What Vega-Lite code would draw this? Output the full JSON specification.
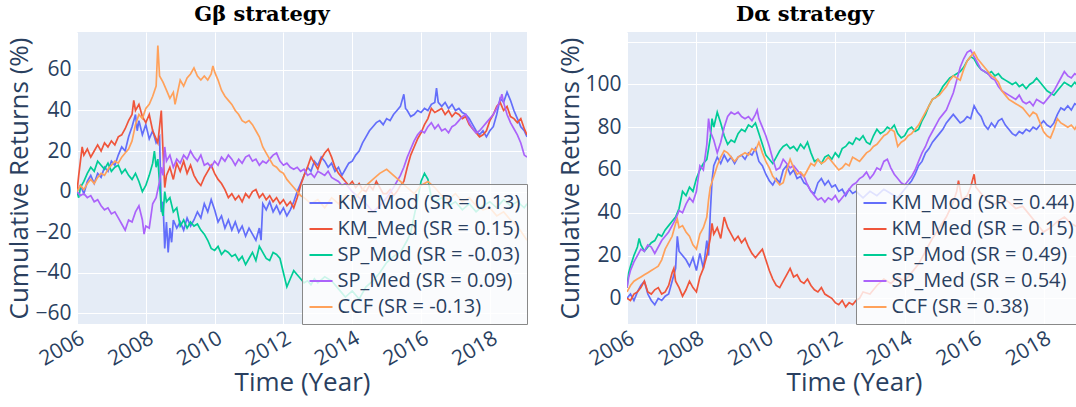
{
"$schema":"https://vega.github.io/schema/vega-lite/v6.json",
"background":"white",
"padding":{"left":6,"top":4,"right":0,"bottom":8},
"datasets":{
"G":[
{"s":"KM_Mod","t":2006,"v":0},{"s":"KM_Mod","t":2006.1,"v":3},{"s":"KM_Mod","t":2006.2,"v":-1},{"s":"KM_Mod","t":2006.3,"v":5},{"s":"KM_Mod","t":2006.4,"v":8},{"s":"KM_Mod","t":2006.5,"v":4},{"s":"KM_Mod","t":2006.6,"v":9},{"s":"KM_Mod","t":2006.7,"v":7},{"s":"KM_Mod","t":2006.8,"v":12},{"s":"KM_Mod","t":2006.9,"v":10},{"s":"KM_Mod","t":2007,"v":15},{"s":"KM_Mod","t":2007.1,"v":13},{"s":"KM_Mod","t":2007.2,"v":18},{"s":"KM_Mod","t":2007.3,"v":22},{"s":"KM_Mod","t":2007.4,"v":20},{"s":"KM_Mod","t":2007.5,"v":27},{"s":"KM_Mod","t":2007.6,"v":32},{"s":"KM_Mod","t":2007.7,"v":38},{"s":"KM_Mod","t":2007.75,"v":30},{"s":"KM_Mod","t":2007.8,"v":35},{"s":"KM_Mod","t":2007.9,"v":28},{"s":"KM_Mod","t":2008,"v":33},{"s":"KM_Mod","t":2008.1,"v":26},{"s":"KM_Mod","t":2008.2,"v":30},{"s":"KM_Mod","t":2008.3,"v":24},{"s":"KM_Mod","t":2008.4,"v":27},{"s":"KM_Mod","t":2008.45,"v":-10},{"s":"KM_Mod","t":2008.5,"v":-5},{"s":"KM_Mod","t":2008.55,"v":-28},{"s":"KM_Mod","t":2008.6,"v":-15},{"s":"KM_Mod","t":2008.65,"v":-30},{"s":"KM_Mod","t":2008.7,"v":-18},{"s":"KM_Mod","t":2008.75,"v":-25},{"s":"KM_Mod","t":2008.8,"v":-14},{"s":"KM_Mod","t":2008.9,"v":-18},{"s":"KM_Mod","t":2009,"v":-15},{"s":"KM_Mod","t":2009.1,"v":-19},{"s":"KM_Mod","t":2009.2,"v":-13},{"s":"KM_Mod","t":2009.3,"v":-17},{"s":"KM_Mod","t":2009.4,"v":-14},{"s":"KM_Mod","t":2009.5,"v":-10},{"s":"KM_Mod","t":2009.6,"v":-13},{"s":"KM_Mod","t":2009.7,"v":-6},{"s":"KM_Mod","t":2009.8,"v":-10},{"s":"KM_Mod","t":2009.9,"v":-4},{"s":"KM_Mod","t":2010,"v":-9},{"s":"KM_Mod","t":2010.1,"v":-15},{"s":"KM_Mod","t":2010.2,"v":-12},{"s":"KM_Mod","t":2010.3,"v":-18},{"s":"KM_Mod","t":2010.4,"v":-14},{"s":"KM_Mod","t":2010.5,"v":-19},{"s":"KM_Mod","t":2010.6,"v":-15},{"s":"KM_Mod","t":2010.7,"v":-20},{"s":"KM_Mod","t":2010.8,"v":-17},{"s":"KM_Mod","t":2010.9,"v":-22},{"s":"KM_Mod","t":2011,"v":-18},{"s":"KM_Mod","t":2011.1,"v":-21},{"s":"KM_Mod","t":2011.2,"v":-24},{"s":"KM_Mod","t":2011.3,"v":-18},{"s":"KM_Mod","t":2011.35,"v":-24},{"s":"KM_Mod","t":2011.4,"v":-6},{"s":"KM_Mod","t":2011.5,"v":-9},{"s":"KM_Mod","t":2011.6,"v":-5},{"s":"KM_Mod","t":2011.7,"v":-10},{"s":"KM_Mod","t":2011.8,"v":-7},{"s":"KM_Mod","t":2011.9,"v":-11},{"s":"KM_Mod","t":2012,"v":-8},{"s":"KM_Mod","t":2012.1,"v":-12},{"s":"KM_Mod","t":2012.2,"v":-9},{"s":"KM_Mod","t":2012.3,"v":-5},{"s":"KM_Mod","t":2012.4,"v":0},{"s":"KM_Mod","t":2012.5,"v":4},{"s":"KM_Mod","t":2012.6,"v":8},{"s":"KM_Mod","t":2012.7,"v":12},{"s":"KM_Mod","t":2012.8,"v":10},{"s":"KM_Mod","t":2012.9,"v":15},{"s":"KM_Mod","t":2013,"v":13},{"s":"KM_Mod","t":2013.1,"v":17},{"s":"KM_Mod","t":2013.2,"v":15},{"s":"KM_Mod","t":2013.3,"v":12},{"s":"KM_Mod","t":2013.4,"v":14},{"s":"KM_Mod","t":2013.5,"v":10},{"s":"KM_Mod","t":2013.6,"v":12},{"s":"KM_Mod","t":2013.7,"v":8},{"s":"KM_Mod","t":2013.8,"v":11},{"s":"KM_Mod","t":2013.9,"v":14},{"s":"KM_Mod","t":2014,"v":15},{"s":"KM_Mod","t":2014.1,"v":18},{"s":"KM_Mod","t":2014.2,"v":20},{"s":"KM_Mod","t":2014.3,"v":24},{"s":"KM_Mod","t":2014.4,"v":27},{"s":"KM_Mod","t":2014.5,"v":30},{"s":"KM_Mod","t":2014.6,"v":32},{"s":"KM_Mod","t":2014.7,"v":34},{"s":"KM_Mod","t":2014.8,"v":35},{"s":"KM_Mod","t":2014.9,"v":33},{"s":"KM_Mod","t":2015,"v":36},{"s":"KM_Mod","t":2015.1,"v":35},{"s":"KM_Mod","t":2015.2,"v":38},{"s":"KM_Mod","t":2015.3,"v":40},{"s":"KM_Mod","t":2015.4,"v":42},{"s":"KM_Mod","t":2015.5,"v":48},{"s":"KM_Mod","t":2015.55,"v":41},{"s":"KM_Mod","t":2015.6,"v":40},{"s":"KM_Mod","t":2015.7,"v":37},{"s":"KM_Mod","t":2015.8,"v":38},{"s":"KM_Mod","t":2015.9,"v":40},{"s":"KM_Mod","t":2016,"v":39},{"s":"KM_Mod","t":2016.1,"v":41},{"s":"KM_Mod","t":2016.2,"v":40},{"s":"KM_Mod","t":2016.3,"v":43},{"s":"KM_Mod","t":2016.4,"v":44},{"s":"KM_Mod","t":2016.45,"v":51},{"s":"KM_Mod","t":2016.5,"v":44},{"s":"KM_Mod","t":2016.6,"v":42},{"s":"KM_Mod","t":2016.7,"v":44},{"s":"KM_Mod","t":2016.8,"v":41},{"s":"KM_Mod","t":2016.9,"v":43},{"s":"KM_Mod","t":2017,"v":40},{"s":"KM_Mod","t":2017.1,"v":41},{"s":"KM_Mod","t":2017.2,"v":39},{"s":"KM_Mod","t":2017.3,"v":38},{"s":"KM_Mod","t":2017.4,"v":36},{"s":"KM_Mod","t":2017.5,"v":33},{"s":"KM_Mod","t":2017.6,"v":30},{"s":"KM_Mod","t":2017.7,"v":28},{"s":"KM_Mod","t":2017.8,"v":30},{"s":"KM_Mod","t":2017.9,"v":27},{"s":"KM_Mod","t":2018,"v":30},{"s":"KM_Mod","t":2018.1,"v":32},{"s":"KM_Mod","t":2018.2,"v":38},{"s":"KM_Mod","t":2018.3,"v":46},{"s":"KM_Mod","t":2018.4,"v":44},{"s":"KM_Mod","t":2018.5,"v":49},{"s":"KM_Mod","t":2018.6,"v":45},{"s":"KM_Mod","t":2018.7,"v":40},{"s":"KM_Mod","t":2018.8,"v":36},{"s":"KM_Mod","t":2018.9,"v":32},{"s":"KM_Mod","t":2019,"v":30},{"s":"KM_Mod","t":2019.08,"v":27},
{"s":"KM_Med","t":2006,"v":0},{"s":"KM_Med","t":2006.05,"v":8},{"s":"KM_Med","t":2006.1,"v":15},{"s":"KM_Med","t":2006.15,"v":22},{"s":"KM_Med","t":2006.2,"v":18},{"s":"KM_Med","t":2006.3,"v":21},{"s":"KM_Med","t":2006.4,"v":17},{"s":"KM_Med","t":2006.5,"v":20},{"s":"KM_Med","t":2006.6,"v":23},{"s":"KM_Med","t":2006.7,"v":20},{"s":"KM_Med","t":2006.8,"v":24},{"s":"KM_Med","t":2006.9,"v":22},{"s":"KM_Med","t":2007,"v":25},{"s":"KM_Med","t":2007.1,"v":23},{"s":"KM_Med","t":2007.2,"v":27},{"s":"KM_Med","t":2007.3,"v":28},{"s":"KM_Med","t":2007.4,"v":31},{"s":"KM_Med","t":2007.5,"v":35},{"s":"KM_Med","t":2007.6,"v":38},{"s":"KM_Med","t":2007.65,"v":45},{"s":"KM_Med","t":2007.7,"v":40},{"s":"KM_Med","t":2007.8,"v":43},{"s":"KM_Med","t":2007.9,"v":37},{"s":"KM_Med","t":2008,"v":34},{"s":"KM_Med","t":2008.1,"v":38},{"s":"KM_Med","t":2008.2,"v":30},{"s":"KM_Med","t":2008.3,"v":26},{"s":"KM_Med","t":2008.35,"v":24},{"s":"KM_Med","t":2008.45,"v":40},{"s":"KM_Med","t":2008.5,"v":20},{"s":"KM_Med","t":2008.55,"v":2},{"s":"KM_Med","t":2008.6,"v":8},{"s":"KM_Med","t":2008.7,"v":12},{"s":"KM_Med","t":2008.8,"v":6},{"s":"KM_Med","t":2008.9,"v":14},{"s":"KM_Med","t":2009,"v":10},{"s":"KM_Med","t":2009.1,"v":15},{"s":"KM_Med","t":2009.2,"v":9},{"s":"KM_Med","t":2009.3,"v":13},{"s":"KM_Med","t":2009.4,"v":8},{"s":"KM_Med","t":2009.5,"v":5},{"s":"KM_Med","t":2009.6,"v":3},{"s":"KM_Med","t":2009.7,"v":7},{"s":"KM_Med","t":2009.8,"v":10},{"s":"KM_Med","t":2009.9,"v":13},{"s":"KM_Med","t":2010,"v":9},{"s":"KM_Med","t":2010.1,"v":6},{"s":"KM_Med","t":2010.2,"v":4},{"s":"KM_Med","t":2010.3,"v":1},{"s":"KM_Med","t":2010.4,"v":-3},{"s":"KM_Med","t":2010.5,"v":-1},{"s":"KM_Med","t":2010.6,"v":-4},{"s":"KM_Med","t":2010.7,"v":-2},{"s":"KM_Med","t":2010.8,"v":-5},{"s":"KM_Med","t":2010.9,"v":-1},{"s":"KM_Med","t":2011,"v":-3},{"s":"KM_Med","t":2011.1,"v":0},{"s":"KM_Med","t":2011.2,"v":1},{"s":"KM_Med","t":2011.3,"v":-3},{"s":"KM_Med","t":2011.4,"v":-1},{"s":"KM_Med","t":2011.5,"v":-4},{"s":"KM_Med","t":2011.6,"v":-2},{"s":"KM_Med","t":2011.7,"v":-5},{"s":"KM_Med","t":2011.8,"v":-3},{"s":"KM_Med","t":2011.9,"v":-6},{"s":"KM_Med","t":2012,"v":-4},{"s":"KM_Med","t":2012.1,"v":-7},{"s":"KM_Med","t":2012.2,"v":-5},{"s":"KM_Med","t":2012.3,"v":-8},{"s":"KM_Med","t":2012.4,"v":-3},{"s":"KM_Med","t":2012.5,"v":3},{"s":"KM_Med","t":2012.6,"v":8},{"s":"KM_Med","t":2012.7,"v":12},{"s":"KM_Med","t":2012.8,"v":17},{"s":"KM_Med","t":2012.9,"v":14},{"s":"KM_Med","t":2013,"v":11},{"s":"KM_Med","t":2013.1,"v":16},{"s":"KM_Med","t":2013.2,"v":19},{"s":"KM_Med","t":2013.3,"v":21},{"s":"KM_Med","t":2013.4,"v":17},{"s":"KM_Med","t":2013.5,"v":12},{"s":"KM_Med","t":2013.6,"v":9},{"s":"KM_Med","t":2013.7,"v":7},{"s":"KM_Med","t":2013.8,"v":5},{"s":"KM_Med","t":2013.9,"v":3},{"s":"KM_Med","t":2014,"v":5},{"s":"KM_Med","t":2014.1,"v":2},{"s":"KM_Med","t":2014.2,"v":4},{"s":"KM_Med","t":2014.3,"v":1},{"s":"KM_Med","t":2014.4,"v":0},{"s":"KM_Med","t":2014.5,"v":3},{"s":"KM_Med","t":2014.6,"v":1},{"s":"KM_Med","t":2014.7,"v":5},{"s":"KM_Med","t":2014.8,"v":2},{"s":"KM_Med","t":2014.9,"v":-1},{"s":"KM_Med","t":2015,"v":-1},{"s":"KM_Med","t":2015.1,"v":1},{"s":"KM_Med","t":2015.2,"v":-2},{"s":"KM_Med","t":2015.3,"v":0},{"s":"KM_Med","t":2015.4,"v":3},{"s":"KM_Med","t":2015.5,"v":5},{"s":"KM_Med","t":2015.6,"v":12},{"s":"KM_Med","t":2015.7,"v":18},{"s":"KM_Med","t":2015.8,"v":22},{"s":"KM_Med","t":2015.9,"v":26},{"s":"KM_Med","t":2016,"v":29},{"s":"KM_Med","t":2016.1,"v":33},{"s":"KM_Med","t":2016.2,"v":36},{"s":"KM_Med","t":2016.3,"v":41},{"s":"KM_Med","t":2016.4,"v":39},{"s":"KM_Med","t":2016.5,"v":40},{"s":"KM_Med","t":2016.6,"v":41},{"s":"KM_Med","t":2016.7,"v":38},{"s":"KM_Med","t":2016.8,"v":40},{"s":"KM_Med","t":2016.9,"v":37},{"s":"KM_Med","t":2017,"v":39},{"s":"KM_Med","t":2017.1,"v":38},{"s":"KM_Med","t":2017.2,"v":36},{"s":"KM_Med","t":2017.3,"v":37},{"s":"KM_Med","t":2017.4,"v":33},{"s":"KM_Med","t":2017.5,"v":31},{"s":"KM_Med","t":2017.6,"v":29},{"s":"KM_Med","t":2017.7,"v":27},{"s":"KM_Med","t":2017.8,"v":28},{"s":"KM_Med","t":2017.9,"v":30},{"s":"KM_Med","t":2018,"v":35},{"s":"KM_Med","t":2018.1,"v":38},{"s":"KM_Med","t":2018.2,"v":42},{"s":"KM_Med","t":2018.3,"v":44},{"s":"KM_Med","t":2018.4,"v":40},{"s":"KM_Med","t":2018.5,"v":42},{"s":"KM_Med","t":2018.6,"v":37},{"s":"KM_Med","t":2018.7,"v":36},{"s":"KM_Med","t":2018.8,"v":34},{"s":"KM_Med","t":2018.9,"v":36},{"s":"KM_Med","t":2019,"v":31},{"s":"KM_Med","t":2019.08,"v":28},
{"s":"SP_Mod","t":2006,"v":0},{"s":"SP_Mod","t":2006.05,"v":-3},{"s":"SP_Mod","t":2006.1,"v":2},{"s":"SP_Mod","t":2006.2,"v":5},{"s":"SP_Mod","t":2006.3,"v":9},{"s":"SP_Mod","t":2006.4,"v":12},{"s":"SP_Mod","t":2006.5,"v":10},{"s":"SP_Mod","t":2006.6,"v":15},{"s":"SP_Mod","t":2006.7,"v":13},{"s":"SP_Mod","t":2006.8,"v":11},{"s":"SP_Mod","t":2006.9,"v":14},{"s":"SP_Mod","t":2007,"v":10},{"s":"SP_Mod","t":2007.1,"v":12},{"s":"SP_Mod","t":2007.2,"v":13},{"s":"SP_Mod","t":2007.3,"v":9},{"s":"SP_Mod","t":2007.4,"v":11},{"s":"SP_Mod","t":2007.5,"v":8},{"s":"SP_Mod","t":2007.6,"v":6},{"s":"SP_Mod","t":2007.7,"v":9},{"s":"SP_Mod","t":2007.8,"v":5},{"s":"SP_Mod","t":2007.9,"v":0},{"s":"SP_Mod","t":2008,"v":3},{"s":"SP_Mod","t":2008.1,"v":8},{"s":"SP_Mod","t":2008.2,"v":14},{"s":"SP_Mod","t":2008.25,"v":20},{"s":"SP_Mod","t":2008.3,"v":12},{"s":"SP_Mod","t":2008.35,"v":16},{"s":"SP_Mod","t":2008.4,"v":4},{"s":"SP_Mod","t":2008.45,"v":-8},{"s":"SP_Mod","t":2008.5,"v":-12},{"s":"SP_Mod","t":2008.55,"v":0},{"s":"SP_Mod","t":2008.6,"v":-5},{"s":"SP_Mod","t":2008.7,"v":-3},{"s":"SP_Mod","t":2008.8,"v":-10},{"s":"SP_Mod","t":2008.9,"v":-8},{"s":"SP_Mod","t":2009,"v":-17},{"s":"SP_Mod","t":2009.1,"v":-14},{"s":"SP_Mod","t":2009.2,"v":-18},{"s":"SP_Mod","t":2009.3,"v":-15},{"s":"SP_Mod","t":2009.4,"v":-17},{"s":"SP_Mod","t":2009.5,"v":-16},{"s":"SP_Mod","t":2009.6,"v":-19},{"s":"SP_Mod","t":2009.7,"v":-21},{"s":"SP_Mod","t":2009.8,"v":-24},{"s":"SP_Mod","t":2009.9,"v":-28},{"s":"SP_Mod","t":2010,"v":-29},{"s":"SP_Mod","t":2010.1,"v":-27},{"s":"SP_Mod","t":2010.2,"v":-31},{"s":"SP_Mod","t":2010.3,"v":-29},{"s":"SP_Mod","t":2010.4,"v":-30},{"s":"SP_Mod","t":2010.5,"v":-32},{"s":"SP_Mod","t":2010.6,"v":-31},{"s":"SP_Mod","t":2010.7,"v":-34},{"s":"SP_Mod","t":2010.8,"v":-32},{"s":"SP_Mod","t":2010.9,"v":-36},{"s":"SP_Mod","t":2011,"v":-33},{"s":"SP_Mod","t":2011.1,"v":-30},{"s":"SP_Mod","t":2011.2,"v":-34},{"s":"SP_Mod","t":2011.3,"v":-27},{"s":"SP_Mod","t":2011.4,"v":-30},{"s":"SP_Mod","t":2011.5,"v":-33},{"s":"SP_Mod","t":2011.6,"v":-34},{"s":"SP_Mod","t":2011.7,"v":-30},{"s":"SP_Mod","t":2011.8,"v":-31},{"s":"SP_Mod","t":2011.9,"v":-33},{"s":"SP_Mod","t":2012,"v":-40},{"s":"SP_Mod","t":2012.1,"v":-47},{"s":"SP_Mod","t":2012.2,"v":-43},{"s":"SP_Mod","t":2012.3,"v":-39},{"s":"SP_Mod","t":2012.4,"v":-41},{"s":"SP_Mod","t":2012.5,"v":-43},{"s":"SP_Mod","t":2012.6,"v":-45},{"s":"SP_Mod","t":2012.7,"v":-44},{"s":"SP_Mod","t":2012.8,"v":-46},{"s":"SP_Mod","t":2012.9,"v":-43},{"s":"SP_Mod","t":2013,"v":-45},{"s":"SP_Mod","t":2013.2,"v":-42},{"s":"SP_Mod","t":2013.4,"v":-44},{"s":"SP_Mod","t":2013.6,"v":-48},{"s":"SP_Mod","t":2013.8,"v":-52},{"s":"SP_Mod","t":2014,"v":-49},{"s":"SP_Mod","t":2014.2,"v":-53},{"s":"SP_Mod","t":2014.4,"v":-47},{"s":"SP_Mod","t":2014.6,"v":-44},{"s":"SP_Mod","t":2014.8,"v":-40},{"s":"SP_Mod","t":2015,"v":-35},{"s":"SP_Mod","t":2015.2,"v":-32},{"s":"SP_Mod","t":2015.4,"v":-30},{"s":"SP_Mod","t":2015.6,"v":-24},{"s":"SP_Mod","t":2015.7,"v":-20},{"s":"SP_Mod","t":2015.8,"v":-12},{"s":"SP_Mod","t":2015.9,"v":-4},{"s":"SP_Mod","t":2016,"v":5},{"s":"SP_Mod","t":2016.1,"v":9},{"s":"SP_Mod","t":2016.2,"v":6},{"s":"SP_Mod","t":2016.3,"v":-3},{"s":"SP_Mod","t":2016.4,"v":-5},{"s":"SP_Mod","t":2016.6,"v":-3},{"s":"SP_Mod","t":2016.8,"v":-7},{"s":"SP_Mod","t":2017,"v":-5},{"s":"SP_Mod","t":2017.2,"v":-9},{"s":"SP_Mod","t":2017.4,"v":-6},{"s":"SP_Mod","t":2017.6,"v":-10},{"s":"SP_Mod","t":2017.8,"v":-7},{"s":"SP_Mod","t":2018,"v":-5},{"s":"SP_Mod","t":2018.2,"v":-8},{"s":"SP_Mod","t":2018.4,"v":-4},{"s":"SP_Mod","t":2018.6,"v":-7},{"s":"SP_Mod","t":2018.8,"v":-5},{"s":"SP_Mod","t":2019,"v":-8},{"s":"SP_Mod","t":2019.08,"v":-6},
{"s":"SP_Med","t":2006,"v":0},{"s":"SP_Med","t":2006.1,"v":-2},{"s":"SP_Med","t":2006.2,"v":-1},{"s":"SP_Med","t":2006.3,"v":-3},{"s":"SP_Med","t":2006.4,"v":-2},{"s":"SP_Med","t":2006.5,"v":-5},{"s":"SP_Med","t":2006.6,"v":-4},{"s":"SP_Med","t":2006.7,"v":-7},{"s":"SP_Med","t":2006.8,"v":-9},{"s":"SP_Med","t":2006.9,"v":-8},{"s":"SP_Med","t":2007,"v":-11},{"s":"SP_Med","t":2007.1,"v":-10},{"s":"SP_Med","t":2007.2,"v":-13},{"s":"SP_Med","t":2007.3,"v":-16},{"s":"SP_Med","t":2007.4,"v":-19},{"s":"SP_Med","t":2007.5,"v":-14},{"s":"SP_Med","t":2007.6,"v":-15},{"s":"SP_Med","t":2007.7,"v":-10},{"s":"SP_Med","t":2007.8,"v":-7},{"s":"SP_Med","t":2007.9,"v":-14},{"s":"SP_Med","t":2007.95,"v":-21},{"s":"SP_Med","t":2008,"v":-17},{"s":"SP_Med","t":2008.1,"v":-18},{"s":"SP_Med","t":2008.2,"v":-6},{"s":"SP_Med","t":2008.3,"v":-3},{"s":"SP_Med","t":2008.4,"v":5},{"s":"SP_Med","t":2008.45,"v":12},{"s":"SP_Med","t":2008.5,"v":8},{"s":"SP_Med","t":2008.55,"v":22},{"s":"SP_Med","t":2008.6,"v":15},{"s":"SP_Med","t":2008.7,"v":18},{"s":"SP_Med","t":2008.8,"v":12},{"s":"SP_Med","t":2008.9,"v":16},{"s":"SP_Med","t":2009,"v":14},{"s":"SP_Med","t":2009.1,"v":18},{"s":"SP_Med","t":2009.2,"v":16},{"s":"SP_Med","t":2009.3,"v":20},{"s":"SP_Med","t":2009.4,"v":17},{"s":"SP_Med","t":2009.5,"v":15},{"s":"SP_Med","t":2009.6,"v":18},{"s":"SP_Med","t":2009.7,"v":13},{"s":"SP_Med","t":2009.8,"v":14},{"s":"SP_Med","t":2009.9,"v":12},{"s":"SP_Med","t":2010,"v":15},{"s":"SP_Med","t":2010.1,"v":13},{"s":"SP_Med","t":2010.2,"v":17},{"s":"SP_Med","t":2010.3,"v":15},{"s":"SP_Med","t":2010.4,"v":18},{"s":"SP_Med","t":2010.5,"v":16},{"s":"SP_Med","t":2010.6,"v":13},{"s":"SP_Med","t":2010.7,"v":16},{"s":"SP_Med","t":2010.8,"v":14},{"s":"SP_Med","t":2010.9,"v":17},{"s":"SP_Med","t":2011,"v":18},{"s":"SP_Med","t":2011.1,"v":15},{"s":"SP_Med","t":2011.2,"v":16},{"s":"SP_Med","t":2011.3,"v":13},{"s":"SP_Med","t":2011.4,"v":15},{"s":"SP_Med","t":2011.5,"v":14},{"s":"SP_Med","t":2011.6,"v":16},{"s":"SP_Med","t":2011.7,"v":18},{"s":"SP_Med","t":2011.8,"v":19},{"s":"SP_Med","t":2011.9,"v":15},{"s":"SP_Med","t":2012,"v":13},{"s":"SP_Med","t":2012.1,"v":14},{"s":"SP_Med","t":2012.2,"v":12},{"s":"SP_Med","t":2012.3,"v":11},{"s":"SP_Med","t":2012.4,"v":12},{"s":"SP_Med","t":2012.5,"v":10},{"s":"SP_Med","t":2012.6,"v":11},{"s":"SP_Med","t":2012.7,"v":8},{"s":"SP_Med","t":2012.8,"v":9},{"s":"SP_Med","t":2012.9,"v":7},{"s":"SP_Med","t":2013,"v":10},{"s":"SP_Med","t":2013.1,"v":9},{"s":"SP_Med","t":2013.2,"v":8},{"s":"SP_Med","t":2013.3,"v":10},{"s":"SP_Med","t":2013.4,"v":7},{"s":"SP_Med","t":2013.5,"v":6},{"s":"SP_Med","t":2013.6,"v":5},{"s":"SP_Med","t":2013.7,"v":3},{"s":"SP_Med","t":2013.8,"v":4},{"s":"SP_Med","t":2013.9,"v":2},{"s":"SP_Med","t":2014,"v":0},{"s":"SP_Med","t":2014.2,"v":-3},{"s":"SP_Med","t":2014.4,"v":-6},{"s":"SP_Med","t":2014.6,"v":-10},{"s":"SP_Med","t":2014.8,"v":-7},{"s":"SP_Med","t":2015,"v":-3},{"s":"SP_Med","t":2015.2,"v":2},{"s":"SP_Med","t":2015.4,"v":8},{"s":"SP_Med","t":2015.5,"v":12},{"s":"SP_Med","t":2015.6,"v":17},{"s":"SP_Med","t":2015.7,"v":21},{"s":"SP_Med","t":2015.8,"v":25},{"s":"SP_Med","t":2015.9,"v":28},{"s":"SP_Med","t":2016,"v":30},{"s":"SP_Med","t":2016.1,"v":29},{"s":"SP_Med","t":2016.2,"v":32},{"s":"SP_Med","t":2016.3,"v":34},{"s":"SP_Med","t":2016.4,"v":31},{"s":"SP_Med","t":2016.5,"v":33},{"s":"SP_Med","t":2016.6,"v":30},{"s":"SP_Med","t":2016.7,"v":31},{"s":"SP_Med","t":2016.8,"v":29},{"s":"SP_Med","t":2016.9,"v":32},{"s":"SP_Med","t":2017,"v":33},{"s":"SP_Med","t":2017.1,"v":35},{"s":"SP_Med","t":2017.2,"v":37},{"s":"SP_Med","t":2017.3,"v":38},{"s":"SP_Med","t":2017.4,"v":34},{"s":"SP_Med","t":2017.5,"v":31},{"s":"SP_Med","t":2017.6,"v":29},{"s":"SP_Med","t":2017.7,"v":30},{"s":"SP_Med","t":2017.8,"v":32},{"s":"SP_Med","t":2017.9,"v":34},{"s":"SP_Med","t":2018,"v":36},{"s":"SP_Med","t":2018.1,"v":38},{"s":"SP_Med","t":2018.2,"v":41},{"s":"SP_Med","t":2018.3,"v":45},{"s":"SP_Med","t":2018.35,"v":48},{"s":"SP_Med","t":2018.4,"v":44},{"s":"SP_Med","t":2018.5,"v":38},{"s":"SP_Med","t":2018.6,"v":34},{"s":"SP_Med","t":2018.7,"v":31},{"s":"SP_Med","t":2018.8,"v":28},{"s":"SP_Med","t":2018.9,"v":24},{"s":"SP_Med","t":2019,"v":18},{"s":"SP_Med","t":2019.08,"v":17},
{"s":"CCF","t":2006,"v":0},{"s":"CCF","t":2006.1,"v":3},{"s":"CCF","t":2006.2,"v":1},{"s":"CCF","t":2006.3,"v":4},{"s":"CCF","t":2006.4,"v":6},{"s":"CCF","t":2006.5,"v":4},{"s":"CCF","t":2006.6,"v":7},{"s":"CCF","t":2006.7,"v":9},{"s":"CCF","t":2006.8,"v":8},{"s":"CCF","t":2006.9,"v":11},{"s":"CCF","t":2007,"v":13},{"s":"CCF","t":2007.1,"v":15},{"s":"CCF","t":2007.2,"v":14},{"s":"CCF","t":2007.3,"v":17},{"s":"CCF","t":2007.4,"v":19},{"s":"CCF","t":2007.5,"v":21},{"s":"CCF","t":2007.6,"v":25},{"s":"CCF","t":2007.7,"v":33},{"s":"CCF","t":2007.8,"v":38},{"s":"CCF","t":2007.9,"v":36},{"s":"CCF","t":2008,"v":41},{"s":"CCF","t":2008.1,"v":43},{"s":"CCF","t":2008.2,"v":47},{"s":"CCF","t":2008.3,"v":52},{"s":"CCF","t":2008.35,"v":72},{"s":"CCF","t":2008.4,"v":57},{"s":"CCF","t":2008.5,"v":54},{"s":"CCF","t":2008.6,"v":50},{"s":"CCF","t":2008.7,"v":46},{"s":"CCF","t":2008.8,"v":49},{"s":"CCF","t":2008.85,"v":43},{"s":"CCF","t":2008.9,"v":47},{"s":"CCF","t":2009,"v":55},{"s":"CCF","t":2009.1,"v":52},{"s":"CCF","t":2009.2,"v":56},{"s":"CCF","t":2009.3,"v":58},{"s":"CCF","t":2009.4,"v":61},{"s":"CCF","t":2009.5,"v":57},{"s":"CCF","t":2009.6,"v":55},{"s":"CCF","t":2009.7,"v":57},{"s":"CCF","t":2009.8,"v":55},{"s":"CCF","t":2009.9,"v":58},{"s":"CCF","t":2009.95,"v":62},{"s":"CCF","t":2010,"v":59},{"s":"CCF","t":2010.1,"v":55},{"s":"CCF","t":2010.2,"v":50},{"s":"CCF","t":2010.3,"v":47},{"s":"CCF","t":2010.4,"v":45},{"s":"CCF","t":2010.5,"v":43},{"s":"CCF","t":2010.6,"v":40},{"s":"CCF","t":2010.7,"v":38},{"s":"CCF","t":2010.8,"v":35},{"s":"CCF","t":2010.9,"v":34},{"s":"CCF","t":2011,"v":35},{"s":"CCF","t":2011.1,"v":33},{"s":"CCF","t":2011.2,"v":30},{"s":"CCF","t":2011.3,"v":27},{"s":"CCF","t":2011.4,"v":22},{"s":"CCF","t":2011.5,"v":19},{"s":"CCF","t":2011.6,"v":16},{"s":"CCF","t":2011.7,"v":13},{"s":"CCF","t":2011.8,"v":12},{"s":"CCF","t":2011.9,"v":10},{"s":"CCF","t":2012,"v":9},{"s":"CCF","t":2012.1,"v":6},{"s":"CCF","t":2012.2,"v":4},{"s":"CCF","t":2012.3,"v":2},{"s":"CCF","t":2012.4,"v":0},{"s":"CCF","t":2012.5,"v":-2},{"s":"CCF","t":2012.6,"v":-3},{"s":"CCF","t":2012.8,"v":-6},{"s":"CCF","t":2013,"v":-4},{"s":"CCF","t":2013.2,"v":-8},{"s":"CCF","t":2013.4,"v":-3},{"s":"CCF","t":2013.6,"v":-6},{"s":"CCF","t":2013.8,"v":-2},{"s":"CCF","t":2014,"v":-5},{"s":"CCF","t":2014.2,"v":-1},{"s":"CCF","t":2014.4,"v":3},{"s":"CCF","t":2014.6,"v":6},{"s":"CCF","t":2014.8,"v":9},{"s":"CCF","t":2015,"v":11},{"s":"CCF","t":2015.2,"v":8},{"s":"CCF","t":2015.4,"v":5},{"s":"CCF","t":2015.6,"v":2},{"s":"CCF","t":2015.8,"v":-1},{"s":"CCF","t":2016,"v":3},{"s":"CCF","t":2016.2,"v":5},{"s":"CCF","t":2016.4,"v":2},{"s":"CCF","t":2016.6,"v":-2},{"s":"CCF","t":2016.8,"v":-4},{"s":"CCF","t":2017,"v":-1},{"s":"CCF","t":2017.2,"v":-5},{"s":"CCF","t":2017.4,"v":-3},{"s":"CCF","t":2017.6,"v":-7},{"s":"CCF","t":2017.8,"v":-9},{"s":"CCF","t":2018,"v":-8},{"s":"CCF","t":2018.2,"v":-12},{"s":"CCF","t":2018.4,"v":-10},{"s":"CCF","t":2018.6,"v":-14},{"s":"CCF","t":2018.8,"v":-17},{"s":"CCF","t":2019,"v":-22},{"s":"CCF","t":2019.08,"v":-24}
],
"D":[
{"s":"KM_Mod","t":2006,"v":0},{"s":"KM_Mod","t":2006.1,"v":2},{"s":"KM_Mod","t":2006.2,"v":-1},{"s":"KM_Mod","t":2006.3,"v":3},{"s":"KM_Mod","t":2006.4,"v":6},{"s":"KM_Mod","t":2006.5,"v":8},{"s":"KM_Mod","t":2006.6,"v":2},{"s":"KM_Mod","t":2006.7,"v":-1},{"s":"KM_Mod","t":2006.8,"v":-3},{"s":"KM_Mod","t":2006.9,"v":0},{"s":"KM_Mod","t":2007,"v":-1},{"s":"KM_Mod","t":2007.1,"v":1},{"s":"KM_Mod","t":2007.2,"v":2},{"s":"KM_Mod","t":2007.3,"v":8},{"s":"KM_Mod","t":2007.4,"v":14},{"s":"KM_Mod","t":2007.45,"v":29},{"s":"KM_Mod","t":2007.5,"v":22},{"s":"KM_Mod","t":2007.6,"v":20},{"s":"KM_Mod","t":2007.7,"v":18},{"s":"KM_Mod","t":2007.8,"v":15},{"s":"KM_Mod","t":2007.9,"v":19},{"s":"KM_Mod","t":2008,"v":13},{"s":"KM_Mod","t":2008.1,"v":21},{"s":"KM_Mod","t":2008.2,"v":14},{"s":"KM_Mod","t":2008.3,"v":27},{"s":"KM_Mod","t":2008.35,"v":20},{"s":"KM_Mod","t":2008.4,"v":40},{"s":"KM_Mod","t":2008.45,"v":55},{"s":"KM_Mod","t":2008.5,"v":62},{"s":"KM_Mod","t":2008.6,"v":66},{"s":"KM_Mod","t":2008.7,"v":63},{"s":"KM_Mod","t":2008.8,"v":67},{"s":"KM_Mod","t":2008.9,"v":64},{"s":"KM_Mod","t":2009,"v":66},{"s":"KM_Mod","t":2009.1,"v":63},{"s":"KM_Mod","t":2009.2,"v":66},{"s":"KM_Mod","t":2009.3,"v":67},{"s":"KM_Mod","t":2009.4,"v":65},{"s":"KM_Mod","t":2009.5,"v":68},{"s":"KM_Mod","t":2009.6,"v":67},{"s":"KM_Mod","t":2009.7,"v":70},{"s":"KM_Mod","t":2009.8,"v":64},{"s":"KM_Mod","t":2009.9,"v":62},{"s":"KM_Mod","t":2010,"v":58},{"s":"KM_Mod","t":2010.1,"v":55},{"s":"KM_Mod","t":2010.2,"v":53},{"s":"KM_Mod","t":2010.3,"v":56},{"s":"KM_Mod","t":2010.4,"v":54},{"s":"KM_Mod","t":2010.5,"v":60},{"s":"KM_Mod","t":2010.6,"v":62},{"s":"KM_Mod","t":2010.7,"v":58},{"s":"KM_Mod","t":2010.8,"v":60},{"s":"KM_Mod","t":2010.9,"v":56},{"s":"KM_Mod","t":2011,"v":57},{"s":"KM_Mod","t":2011.1,"v":54},{"s":"KM_Mod","t":2011.2,"v":53},{"s":"KM_Mod","t":2011.3,"v":50},{"s":"KM_Mod","t":2011.4,"v":49},{"s":"KM_Mod","t":2011.5,"v":54},{"s":"KM_Mod","t":2011.6,"v":56},{"s":"KM_Mod","t":2011.7,"v":53},{"s":"KM_Mod","t":2011.8,"v":55},{"s":"KM_Mod","t":2011.9,"v":52},{"s":"KM_Mod","t":2012,"v":53},{"s":"KM_Mod","t":2012.1,"v":50},{"s":"KM_Mod","t":2012.2,"v":51},{"s":"KM_Mod","t":2012.3,"v":48},{"s":"KM_Mod","t":2012.4,"v":51},{"s":"KM_Mod","t":2012.5,"v":49},{"s":"KM_Mod","t":2012.6,"v":50},{"s":"KM_Mod","t":2012.8,"v":47},{"s":"KM_Mod","t":2013,"v":50},{"s":"KM_Mod","t":2013.2,"v":48},{"s":"KM_Mod","t":2013.4,"v":51},{"s":"KM_Mod","t":2013.6,"v":49},{"s":"KM_Mod","t":2013.8,"v":47},{"s":"KM_Mod","t":2014,"v":51},{"s":"KM_Mod","t":2014.1,"v":53},{"s":"KM_Mod","t":2014.2,"v":55},{"s":"KM_Mod","t":2014.3,"v":58},{"s":"KM_Mod","t":2014.4,"v":62},{"s":"KM_Mod","t":2014.5,"v":64},{"s":"KM_Mod","t":2014.6,"v":68},{"s":"KM_Mod","t":2014.7,"v":70},{"s":"KM_Mod","t":2014.8,"v":73},{"s":"KM_Mod","t":2014.9,"v":75},{"s":"KM_Mod","t":2015,"v":77},{"s":"KM_Mod","t":2015.1,"v":79},{"s":"KM_Mod","t":2015.2,"v":82},{"s":"KM_Mod","t":2015.3,"v":84},{"s":"KM_Mod","t":2015.4,"v":86},{"s":"KM_Mod","t":2015.5,"v":84},{"s":"KM_Mod","t":2015.6,"v":82},{"s":"KM_Mod","t":2015.7,"v":83},{"s":"KM_Mod","t":2015.8,"v":85},{"s":"KM_Mod","t":2015.9,"v":84},{"s":"KM_Mod","t":2016,"v":90},{"s":"KM_Mod","t":2016.1,"v":87},{"s":"KM_Mod","t":2016.2,"v":85},{"s":"KM_Mod","t":2016.3,"v":81},{"s":"KM_Mod","t":2016.4,"v":79},{"s":"KM_Mod","t":2016.5,"v":82},{"s":"KM_Mod","t":2016.6,"v":80},{"s":"KM_Mod","t":2016.7,"v":83},{"s":"KM_Mod","t":2016.8,"v":84},{"s":"KM_Mod","t":2016.9,"v":81},{"s":"KM_Mod","t":2017,"v":79},{"s":"KM_Mod","t":2017.1,"v":77},{"s":"KM_Mod","t":2017.2,"v":76},{"s":"KM_Mod","t":2017.3,"v":78},{"s":"KM_Mod","t":2017.4,"v":77},{"s":"KM_Mod","t":2017.5,"v":79},{"s":"KM_Mod","t":2017.6,"v":78},{"s":"KM_Mod","t":2017.7,"v":80},{"s":"KM_Mod","t":2017.8,"v":79},{"s":"KM_Mod","t":2017.9,"v":81},{"s":"KM_Mod","t":2018,"v":83},{"s":"KM_Mod","t":2018.1,"v":81},{"s":"KM_Mod","t":2018.2,"v":80},{"s":"KM_Mod","t":2018.3,"v":82},{"s":"KM_Mod","t":2018.4,"v":86},{"s":"KM_Mod","t":2018.5,"v":89},{"s":"KM_Mod","t":2018.6,"v":88},{"s":"KM_Mod","t":2018.7,"v":90},{"s":"KM_Mod","t":2018.8,"v":88},{"s":"KM_Mod","t":2018.9,"v":91},{"s":"KM_Mod","t":2019,"v":90},{"s":"KM_Mod","t":2019.08,"v":91},
{"s":"KM_Med","t":2006,"v":0},{"s":"KM_Med","t":2006.1,"v":-1},{"s":"KM_Med","t":2006.2,"v":2},{"s":"KM_Med","t":2006.3,"v":3},{"s":"KM_Med","t":2006.4,"v":5},{"s":"KM_Med","t":2006.5,"v":8},{"s":"KM_Med","t":2006.6,"v":3},{"s":"KM_Med","t":2006.7,"v":2},{"s":"KM_Med","t":2006.8,"v":4},{"s":"KM_Med","t":2006.9,"v":5},{"s":"KM_Med","t":2007,"v":2},{"s":"KM_Med","t":2007.1,"v":3},{"s":"KM_Med","t":2007.2,"v":6},{"s":"KM_Med","t":2007.3,"v":12},{"s":"KM_Med","t":2007.35,"v":14},{"s":"KM_Med","t":2007.4,"v":8},{"s":"KM_Med","t":2007.5,"v":5},{"s":"KM_Med","t":2007.6,"v":1},{"s":"KM_Med","t":2007.7,"v":4},{"s":"KM_Med","t":2007.8,"v":8},{"s":"KM_Med","t":2007.9,"v":5},{"s":"KM_Med","t":2008,"v":3},{"s":"KM_Med","t":2008.1,"v":10},{"s":"KM_Med","t":2008.2,"v":14},{"s":"KM_Med","t":2008.3,"v":20},{"s":"KM_Med","t":2008.4,"v":28},{"s":"KM_Med","t":2008.45,"v":35},{"s":"KM_Med","t":2008.5,"v":30},{"s":"KM_Med","t":2008.6,"v":33},{"s":"KM_Med","t":2008.7,"v":28},{"s":"KM_Med","t":2008.8,"v":38},{"s":"KM_Med","t":2008.9,"v":33},{"s":"KM_Med","t":2009,"v":30},{"s":"KM_Med","t":2009.1,"v":27},{"s":"KM_Med","t":2009.2,"v":29},{"s":"KM_Med","t":2009.3,"v":26},{"s":"KM_Med","t":2009.4,"v":28},{"s":"KM_Med","t":2009.5,"v":24},{"s":"KM_Med","t":2009.6,"v":21},{"s":"KM_Med","t":2009.7,"v":19},{"s":"KM_Med","t":2009.8,"v":21},{"s":"KM_Med","t":2009.9,"v":23},{"s":"KM_Med","t":2010,"v":18},{"s":"KM_Med","t":2010.1,"v":13},{"s":"KM_Med","t":2010.2,"v":9},{"s":"KM_Med","t":2010.3,"v":6},{"s":"KM_Med","t":2010.4,"v":5},{"s":"KM_Med","t":2010.5,"v":8},{"s":"KM_Med","t":2010.6,"v":11},{"s":"KM_Med","t":2010.7,"v":14},{"s":"KM_Med","t":2010.8,"v":10},{"s":"KM_Med","t":2010.9,"v":11},{"s":"KM_Med","t":2011,"v":8},{"s":"KM_Med","t":2011.1,"v":7},{"s":"KM_Med","t":2011.2,"v":9},{"s":"KM_Med","t":2011.3,"v":6},{"s":"KM_Med","t":2011.4,"v":4},{"s":"KM_Med","t":2011.5,"v":3},{"s":"KM_Med","t":2011.6,"v":5},{"s":"KM_Med","t":2011.7,"v":2},{"s":"KM_Med","t":2011.8,"v":1},{"s":"KM_Med","t":2011.9,"v":0},{"s":"KM_Med","t":2012,"v":-2},{"s":"KM_Med","t":2012.1,"v":-3},{"s":"KM_Med","t":2012.2,"v":-1},{"s":"KM_Med","t":2012.3,"v":-4},{"s":"KM_Med","t":2012.4,"v":-2},{"s":"KM_Med","t":2012.5,"v":-3},{"s":"KM_Med","t":2012.6,"v":-1},{"s":"KM_Med","t":2012.7,"v":0},{"s":"KM_Med","t":2012.8,"v":3},{"s":"KM_Med","t":2013,"v":2},{"s":"KM_Med","t":2013.2,"v":6},{"s":"KM_Med","t":2013.4,"v":9},{"s":"KM_Med","t":2013.6,"v":7},{"s":"KM_Med","t":2013.8,"v":10},{"s":"KM_Med","t":2014,"v":8},{"s":"KM_Med","t":2014.2,"v":12},{"s":"KM_Med","t":2014.4,"v":16},{"s":"KM_Med","t":2014.6,"v":22},{"s":"KM_Med","t":2014.8,"v":28},{"s":"KM_Med","t":2015,"v":33},{"s":"KM_Med","t":2015.2,"v":38},{"s":"KM_Med","t":2015.4,"v":45},{"s":"KM_Med","t":2015.5,"v":50},{"s":"KM_Med","t":2015.55,"v":55},{"s":"KM_Med","t":2015.65,"v":46},{"s":"KM_Med","t":2015.8,"v":48},{"s":"KM_Med","t":2015.9,"v":52},{"s":"KM_Med","t":2016,"v":58},{"s":"KM_Med","t":2016.05,"v":52},{"s":"KM_Med","t":2016.2,"v":49},{"s":"KM_Med","t":2016.4,"v":46},{"s":"KM_Med","t":2016.6,"v":44},{"s":"KM_Med","t":2016.8,"v":47},{"s":"KM_Med","t":2017,"v":45},{"s":"KM_Med","t":2017.2,"v":42},{"s":"KM_Med","t":2017.4,"v":43},{"s":"KM_Med","t":2017.6,"v":39},{"s":"KM_Med","t":2017.8,"v":35},{"s":"KM_Med","t":2018,"v":31},{"s":"KM_Med","t":2018.2,"v":33},{"s":"KM_Med","t":2018.4,"v":36},{"s":"KM_Med","t":2018.6,"v":38},{"s":"KM_Med","t":2018.8,"v":35},{"s":"KM_Med","t":2019,"v":33},{"s":"KM_Med","t":2019.08,"v":34},
{"s":"SP_Mod","t":2006,"v":5},{"s":"SP_Mod","t":2006.05,"v":12},{"s":"SP_Mod","t":2006.1,"v":15},{"s":"SP_Mod","t":2006.2,"v":20},{"s":"SP_Mod","t":2006.3,"v":24},{"s":"SP_Mod","t":2006.35,"v":28},{"s":"SP_Mod","t":2006.4,"v":25},{"s":"SP_Mod","t":2006.5,"v":22},{"s":"SP_Mod","t":2006.6,"v":24},{"s":"SP_Mod","t":2006.7,"v":26},{"s":"SP_Mod","t":2006.8,"v":27},{"s":"SP_Mod","t":2006.9,"v":30},{"s":"SP_Mod","t":2007,"v":29},{"s":"SP_Mod","t":2007.1,"v":32},{"s":"SP_Mod","t":2007.2,"v":34},{"s":"SP_Mod","t":2007.3,"v":36},{"s":"SP_Mod","t":2007.4,"v":38},{"s":"SP_Mod","t":2007.5,"v":42},{"s":"SP_Mod","t":2007.6,"v":50},{"s":"SP_Mod","t":2007.7,"v":48},{"s":"SP_Mod","t":2007.8,"v":52},{"s":"SP_Mod","t":2007.9,"v":50},{"s":"SP_Mod","t":2008,"v":56},{"s":"SP_Mod","t":2008.1,"v":60},{"s":"SP_Mod","t":2008.2,"v":63},{"s":"SP_Mod","t":2008.3,"v":65},{"s":"SP_Mod","t":2008.4,"v":75},{"s":"SP_Mod","t":2008.45,"v":84},{"s":"SP_Mod","t":2008.5,"v":80},{"s":"SP_Mod","t":2008.6,"v":87},{"s":"SP_Mod","t":2008.7,"v":82},{"s":"SP_Mod","t":2008.8,"v":76},{"s":"SP_Mod","t":2008.9,"v":72},{"s":"SP_Mod","t":2009,"v":74},{"s":"SP_Mod","t":2009.1,"v":73},{"s":"SP_Mod","t":2009.2,"v":77},{"s":"SP_Mod","t":2009.3,"v":79},{"s":"SP_Mod","t":2009.4,"v":78},{"s":"SP_Mod","t":2009.5,"v":81},{"s":"SP_Mod","t":2009.6,"v":80},{"s":"SP_Mod","t":2009.7,"v":82},{"s":"SP_Mod","t":2009.8,"v":77},{"s":"SP_Mod","t":2009.9,"v":72},{"s":"SP_Mod","t":2010,"v":67},{"s":"SP_Mod","t":2010.1,"v":65},{"s":"SP_Mod","t":2010.2,"v":63},{"s":"SP_Mod","t":2010.3,"v":66},{"s":"SP_Mod","t":2010.4,"v":69},{"s":"SP_Mod","t":2010.5,"v":71},{"s":"SP_Mod","t":2010.6,"v":72},{"s":"SP_Mod","t":2010.7,"v":70},{"s":"SP_Mod","t":2010.8,"v":71},{"s":"SP_Mod","t":2010.9,"v":69},{"s":"SP_Mod","t":2011,"v":72},{"s":"SP_Mod","t":2011.1,"v":70},{"s":"SP_Mod","t":2011.2,"v":73},{"s":"SP_Mod","t":2011.3,"v":68},{"s":"SP_Mod","t":2011.4,"v":64},{"s":"SP_Mod","t":2011.5,"v":65},{"s":"SP_Mod","t":2011.6,"v":63},{"s":"SP_Mod","t":2011.7,"v":66},{"s":"SP_Mod","t":2011.8,"v":67},{"s":"SP_Mod","t":2011.9,"v":65},{"s":"SP_Mod","t":2012,"v":68},{"s":"SP_Mod","t":2012.1,"v":66},{"s":"SP_Mod","t":2012.2,"v":70},{"s":"SP_Mod","t":2012.3,"v":71},{"s":"SP_Mod","t":2012.4,"v":73},{"s":"SP_Mod","t":2012.5,"v":72},{"s":"SP_Mod","t":2012.6,"v":75},{"s":"SP_Mod","t":2012.7,"v":74},{"s":"SP_Mod","t":2012.8,"v":76},{"s":"SP_Mod","t":2012.9,"v":73},{"s":"SP_Mod","t":2013,"v":72},{"s":"SP_Mod","t":2013.1,"v":76},{"s":"SP_Mod","t":2013.2,"v":79},{"s":"SP_Mod","t":2013.3,"v":77},{"s":"SP_Mod","t":2013.4,"v":78},{"s":"SP_Mod","t":2013.5,"v":80},{"s":"SP_Mod","t":2013.6,"v":79},{"s":"SP_Mod","t":2013.7,"v":81},{"s":"SP_Mod","t":2013.8,"v":77},{"s":"SP_Mod","t":2013.9,"v":75},{"s":"SP_Mod","t":2014,"v":76},{"s":"SP_Mod","t":2014.1,"v":79},{"s":"SP_Mod","t":2014.2,"v":80},{"s":"SP_Mod","t":2014.3,"v":78},{"s":"SP_Mod","t":2014.4,"v":79},{"s":"SP_Mod","t":2014.5,"v":83},{"s":"SP_Mod","t":2014.6,"v":86},{"s":"SP_Mod","t":2014.7,"v":90},{"s":"SP_Mod","t":2014.8,"v":93},{"s":"SP_Mod","t":2014.9,"v":94},{"s":"SP_Mod","t":2015,"v":96},{"s":"SP_Mod","t":2015.1,"v":99},{"s":"SP_Mod","t":2015.2,"v":101},{"s":"SP_Mod","t":2015.3,"v":103},{"s":"SP_Mod","t":2015.4,"v":104},{"s":"SP_Mod","t":2015.5,"v":105},{"s":"SP_Mod","t":2015.6,"v":106},{"s":"SP_Mod","t":2015.7,"v":108},{"s":"SP_Mod","t":2015.8,"v":111},{"s":"SP_Mod","t":2015.9,"v":113},{"s":"SP_Mod","t":2016,"v":112},{"s":"SP_Mod","t":2016.1,"v":109},{"s":"SP_Mod","t":2016.2,"v":107},{"s":"SP_Mod","t":2016.3,"v":106},{"s":"SP_Mod","t":2016.4,"v":105},{"s":"SP_Mod","t":2016.5,"v":106},{"s":"SP_Mod","t":2016.6,"v":104},{"s":"SP_Mod","t":2016.7,"v":105},{"s":"SP_Mod","t":2016.8,"v":103},{"s":"SP_Mod","t":2016.9,"v":102},{"s":"SP_Mod","t":2017,"v":101},{"s":"SP_Mod","t":2017.1,"v":100},{"s":"SP_Mod","t":2017.2,"v":101},{"s":"SP_Mod","t":2017.3,"v":99},{"s":"SP_Mod","t":2017.4,"v":100},{"s":"SP_Mod","t":2017.5,"v":98},{"s":"SP_Mod","t":2017.6,"v":100},{"s":"SP_Mod","t":2017.7,"v":101},{"s":"SP_Mod","t":2017.8,"v":103},{"s":"SP_Mod","t":2017.9,"v":101},{"s":"SP_Mod","t":2018,"v":99},{"s":"SP_Mod","t":2018.1,"v":97},{"s":"SP_Mod","t":2018.2,"v":96},{"s":"SP_Mod","t":2018.3,"v":95},{"s":"SP_Mod","t":2018.4,"v":97},{"s":"SP_Mod","t":2018.5,"v":99},{"s":"SP_Mod","t":2018.6,"v":101},{"s":"SP_Mod","t":2018.7,"v":100},{"s":"SP_Mod","t":2018.8,"v":99},{"s":"SP_Mod","t":2018.9,"v":101},{"s":"SP_Mod","t":2019,"v":99},{"s":"SP_Mod","t":2019.08,"v":100},
{"s":"SP_Med","t":2006,"v":5},{"s":"SP_Med","t":2006.05,"v":10},{"s":"SP_Med","t":2006.1,"v":13},{"s":"SP_Med","t":2006.2,"v":17},{"s":"SP_Med","t":2006.3,"v":20},{"s":"SP_Med","t":2006.4,"v":23},{"s":"SP_Med","t":2006.5,"v":22},{"s":"SP_Med","t":2006.6,"v":25},{"s":"SP_Med","t":2006.7,"v":24},{"s":"SP_Med","t":2006.8,"v":21},{"s":"SP_Med","t":2006.9,"v":24},{"s":"SP_Med","t":2007,"v":27},{"s":"SP_Med","t":2007.1,"v":29},{"s":"SP_Med","t":2007.2,"v":31},{"s":"SP_Med","t":2007.3,"v":34},{"s":"SP_Med","t":2007.4,"v":37},{"s":"SP_Med","t":2007.5,"v":41},{"s":"SP_Med","t":2007.6,"v":40},{"s":"SP_Med","t":2007.7,"v":44},{"s":"SP_Med","t":2007.8,"v":47},{"s":"SP_Med","t":2007.9,"v":45},{"s":"SP_Med","t":2008,"v":50},{"s":"SP_Med","t":2008.1,"v":62},{"s":"SP_Med","t":2008.2,"v":60},{"s":"SP_Med","t":2008.3,"v":72},{"s":"SP_Med","t":2008.35,"v":84},{"s":"SP_Med","t":2008.4,"v":78},{"s":"SP_Med","t":2008.5,"v":74},{"s":"SP_Med","t":2008.6,"v":68},{"s":"SP_Med","t":2008.7,"v":73},{"s":"SP_Med","t":2008.8,"v":80},{"s":"SP_Med","t":2008.9,"v":85},{"s":"SP_Med","t":2009,"v":87},{"s":"SP_Med","t":2009.1,"v":86},{"s":"SP_Med","t":2009.2,"v":87},{"s":"SP_Med","t":2009.3,"v":85},{"s":"SP_Med","t":2009.4,"v":84},{"s":"SP_Med","t":2009.5,"v":85},{"s":"SP_Med","t":2009.6,"v":83},{"s":"SP_Med","t":2009.7,"v":86},{"s":"SP_Med","t":2009.75,"v":88},{"s":"SP_Med","t":2009.8,"v":84},{"s":"SP_Med","t":2009.9,"v":80},{"s":"SP_Med","t":2010,"v":76},{"s":"SP_Med","t":2010.1,"v":71},{"s":"SP_Med","t":2010.2,"v":65},{"s":"SP_Med","t":2010.3,"v":60},{"s":"SP_Med","t":2010.4,"v":61},{"s":"SP_Med","t":2010.5,"v":65},{"s":"SP_Med","t":2010.6,"v":63},{"s":"SP_Med","t":2010.7,"v":61},{"s":"SP_Med","t":2010.8,"v":62},{"s":"SP_Med","t":2010.9,"v":60},{"s":"SP_Med","t":2011,"v":58},{"s":"SP_Med","t":2011.1,"v":57},{"s":"SP_Med","t":2011.2,"v":53},{"s":"SP_Med","t":2011.3,"v":50},{"s":"SP_Med","t":2011.4,"v":48},{"s":"SP_Med","t":2011.5,"v":46},{"s":"SP_Med","t":2011.6,"v":47},{"s":"SP_Med","t":2011.7,"v":45},{"s":"SP_Med","t":2011.8,"v":47},{"s":"SP_Med","t":2011.9,"v":46},{"s":"SP_Med","t":2012,"v":48},{"s":"SP_Med","t":2012.1,"v":45},{"s":"SP_Med","t":2012.2,"v":47},{"s":"SP_Med","t":2012.3,"v":49},{"s":"SP_Med","t":2012.4,"v":51},{"s":"SP_Med","t":2012.5,"v":53},{"s":"SP_Med","t":2012.6,"v":54},{"s":"SP_Med","t":2012.7,"v":56},{"s":"SP_Med","t":2012.8,"v":57},{"s":"SP_Med","t":2012.9,"v":59},{"s":"SP_Med","t":2013,"v":56},{"s":"SP_Med","t":2013.1,"v":58},{"s":"SP_Med","t":2013.2,"v":61},{"s":"SP_Med","t":2013.3,"v":60},{"s":"SP_Med","t":2013.4,"v":64},{"s":"SP_Med","t":2013.5,"v":65},{"s":"SP_Med","t":2013.6,"v":61},{"s":"SP_Med","t":2013.7,"v":58},{"s":"SP_Med","t":2013.8,"v":56},{"s":"SP_Med","t":2013.9,"v":54},{"s":"SP_Med","t":2014,"v":53},{"s":"SP_Med","t":2014.1,"v":55},{"s":"SP_Med","t":2014.2,"v":57},{"s":"SP_Med","t":2014.3,"v":60},{"s":"SP_Med","t":2014.4,"v":64},{"s":"SP_Med","t":2014.5,"v":68},{"s":"SP_Med","t":2014.6,"v":71},{"s":"SP_Med","t":2014.7,"v":75},{"s":"SP_Med","t":2014.8,"v":78},{"s":"SP_Med","t":2014.9,"v":81},{"s":"SP_Med","t":2015,"v":84},{"s":"SP_Med","t":2015.1,"v":86},{"s":"SP_Med","t":2015.2,"v":88},{"s":"SP_Med","t":2015.3,"v":92},{"s":"SP_Med","t":2015.4,"v":96},{"s":"SP_Med","t":2015.5,"v":102},{"s":"SP_Med","t":2015.6,"v":108},{"s":"SP_Med","t":2015.7,"v":112},{"s":"SP_Med","t":2015.8,"v":115},{"s":"SP_Med","t":2015.9,"v":116},{"s":"SP_Med","t":2016,"v":113},{"s":"SP_Med","t":2016.1,"v":110},{"s":"SP_Med","t":2016.2,"v":107},{"s":"SP_Med","t":2016.3,"v":106},{"s":"SP_Med","t":2016.4,"v":105},{"s":"SP_Med","t":2016.5,"v":103},{"s":"SP_Med","t":2016.6,"v":102},{"s":"SP_Med","t":2016.7,"v":99},{"s":"SP_Med","t":2016.8,"v":97},{"s":"SP_Med","t":2016.9,"v":96},{"s":"SP_Med","t":2017,"v":95},{"s":"SP_Med","t":2017.1,"v":94},{"s":"SP_Med","t":2017.2,"v":93},{"s":"SP_Med","t":2017.3,"v":95},{"s":"SP_Med","t":2017.4,"v":92},{"s":"SP_Med","t":2017.5,"v":91},{"s":"SP_Med","t":2017.6,"v":92},{"s":"SP_Med","t":2017.7,"v":90},{"s":"SP_Med","t":2017.8,"v":93},{"s":"SP_Med","t":2017.9,"v":92},{"s":"SP_Med","t":2018,"v":91},{"s":"SP_Med","t":2018.1,"v":93},{"s":"SP_Med","t":2018.2,"v":95},{"s":"SP_Med","t":2018.3,"v":97},{"s":"SP_Med","t":2018.4,"v":100},{"s":"SP_Med","t":2018.5,"v":103},{"s":"SP_Med","t":2018.6,"v":106},{"s":"SP_Med","t":2018.7,"v":104},{"s":"SP_Med","t":2018.8,"v":103},{"s":"SP_Med","t":2018.9,"v":105},{"s":"SP_Med","t":2019,"v":104},{"s":"SP_Med","t":2019.08,"v":105},
{"s":"CCF","t":2006,"v":3},{"s":"CCF","t":2006.1,"v":6},{"s":"CCF","t":2006.2,"v":8},{"s":"CCF","t":2006.3,"v":9},{"s":"CCF","t":2006.4,"v":10},{"s":"CCF","t":2006.5,"v":11},{"s":"CCF","t":2006.6,"v":12},{"s":"CCF","t":2006.7,"v":13},{"s":"CCF","t":2006.8,"v":14},{"s":"CCF","t":2006.9,"v":15},{"s":"CCF","t":2007,"v":18},{"s":"CCF","t":2007.1,"v":23},{"s":"CCF","t":2007.2,"v":26},{"s":"CCF","t":2007.3,"v":29},{"s":"CCF","t":2007.4,"v":35},{"s":"CCF","t":2007.45,"v":37},{"s":"CCF","t":2007.5,"v":33},{"s":"CCF","t":2007.6,"v":34},{"s":"CCF","t":2007.7,"v":31},{"s":"CCF","t":2007.8,"v":29},{"s":"CCF","t":2007.9,"v":25},{"s":"CCF","t":2008,"v":23},{"s":"CCF","t":2008.1,"v":30},{"s":"CCF","t":2008.2,"v":33},{"s":"CCF","t":2008.3,"v":38},{"s":"CCF","t":2008.35,"v":46},{"s":"CCF","t":2008.4,"v":52},{"s":"CCF","t":2008.5,"v":57},{"s":"CCF","t":2008.6,"v":62},{"s":"CCF","t":2008.7,"v":66},{"s":"CCF","t":2008.8,"v":69},{"s":"CCF","t":2008.9,"v":68},{"s":"CCF","t":2009,"v":66},{"s":"CCF","t":2009.1,"v":64},{"s":"CCF","t":2009.2,"v":66},{"s":"CCF","t":2009.3,"v":67},{"s":"CCF","t":2009.4,"v":68},{"s":"CCF","t":2009.5,"v":67},{"s":"CCF","t":2009.6,"v":70},{"s":"CCF","t":2009.7,"v":69},{"s":"CCF","t":2009.8,"v":73},{"s":"CCF","t":2009.9,"v":68},{"s":"CCF","t":2010,"v":64},{"s":"CCF","t":2010.1,"v":61},{"s":"CCF","t":2010.2,"v":57},{"s":"CCF","t":2010.3,"v":55},{"s":"CCF","t":2010.4,"v":53},{"s":"CCF","t":2010.5,"v":54},{"s":"CCF","t":2010.6,"v":60},{"s":"CCF","t":2010.7,"v":65},{"s":"CCF","t":2010.8,"v":61},{"s":"CCF","t":2010.9,"v":58},{"s":"CCF","t":2011,"v":59},{"s":"CCF","t":2011.1,"v":57},{"s":"CCF","t":2011.2,"v":60},{"s":"CCF","t":2011.3,"v":63},{"s":"CCF","t":2011.4,"v":62},{"s":"CCF","t":2011.5,"v":65},{"s":"CCF","t":2011.6,"v":63},{"s":"CCF","t":2011.7,"v":64},{"s":"CCF","t":2011.8,"v":66},{"s":"CCF","t":2011.9,"v":64},{"s":"CCF","t":2012,"v":62},{"s":"CCF","t":2012.1,"v":60},{"s":"CCF","t":2012.2,"v":61},{"s":"CCF","t":2012.3,"v":63},{"s":"CCF","t":2012.4,"v":62},{"s":"CCF","t":2012.5,"v":66},{"s":"CCF","t":2012.6,"v":65},{"s":"CCF","t":2012.7,"v":64},{"s":"CCF","t":2012.8,"v":66},{"s":"CCF","t":2012.9,"v":68},{"s":"CCF","t":2013,"v":69},{"s":"CCF","t":2013.1,"v":71},{"s":"CCF","t":2013.2,"v":72},{"s":"CCF","t":2013.3,"v":74},{"s":"CCF","t":2013.4,"v":76},{"s":"CCF","t":2013.5,"v":77},{"s":"CCF","t":2013.6,"v":79},{"s":"CCF","t":2013.7,"v":78},{"s":"CCF","t":2013.8,"v":71},{"s":"CCF","t":2013.9,"v":73},{"s":"CCF","t":2014,"v":74},{"s":"CCF","t":2014.1,"v":76},{"s":"CCF","t":2014.2,"v":77},{"s":"CCF","t":2014.3,"v":79},{"s":"CCF","t":2014.4,"v":81},{"s":"CCF","t":2014.5,"v":84},{"s":"CCF","t":2014.6,"v":87},{"s":"CCF","t":2014.7,"v":90},{"s":"CCF","t":2014.8,"v":93},{"s":"CCF","t":2014.9,"v":94},{"s":"CCF","t":2015,"v":95},{"s":"CCF","t":2015.1,"v":97},{"s":"CCF","t":2015.2,"v":99},{"s":"CCF","t":2015.3,"v":102},{"s":"CCF","t":2015.4,"v":104},{"s":"CCF","t":2015.5,"v":103},{"s":"CCF","t":2015.6,"v":102},{"s":"CCF","t":2015.7,"v":107},{"s":"CCF","t":2015.8,"v":111},{"s":"CCF","t":2015.9,"v":113},{"s":"CCF","t":2016,"v":115},{"s":"CCF","t":2016.1,"v":112},{"s":"CCF","t":2016.2,"v":110},{"s":"CCF","t":2016.3,"v":108},{"s":"CCF","t":2016.4,"v":106},{"s":"CCF","t":2016.5,"v":104},{"s":"CCF","t":2016.6,"v":103},{"s":"CCF","t":2016.7,"v":101},{"s":"CCF","t":2016.8,"v":97},{"s":"CCF","t":2016.9,"v":95},{"s":"CCF","t":2017,"v":93},{"s":"CCF","t":2017.1,"v":92},{"s":"CCF","t":2017.2,"v":91},{"s":"CCF","t":2017.3,"v":90},{"s":"CCF","t":2017.4,"v":89},{"s":"CCF","t":2017.5,"v":87},{"s":"CCF","t":2017.6,"v":85},{"s":"CCF","t":2017.7,"v":87},{"s":"CCF","t":2017.8,"v":86},{"s":"CCF","t":2017.9,"v":82},{"s":"CCF","t":2018,"v":78},{"s":"CCF","t":2018.1,"v":76},{"s":"CCF","t":2018.2,"v":75},{"s":"CCF","t":2018.3,"v":79},{"s":"CCF","t":2018.4,"v":84},{"s":"CCF","t":2018.5,"v":82},{"s":"CCF","t":2018.6,"v":81},{"s":"CCF","t":2018.7,"v":80},{"s":"CCF","t":2018.8,"v":81},{"s":"CCF","t":2018.9,"v":79},{"s":"CCF","t":2019,"v":82},{"s":"CCF","t":2019.08,"v":81}
]
},
"hconcat":[
{
"width":450,"height":292,
"title":{"text":"Gβ strategy","dx":-40,"offset":7},
"data":{"name":"G"},
"mark":{"type":"line","strokeWidth":1.7,"clip":true},
"encoding":{
"x":{"field":"t","type":"quantitative","scale":{"domain":[2006,2019.08],"nice":false,"zero":false},"axis":{"values":[2006,2008,2010,2012,2014,2016,2018],"format":"d","labelAngle":-30,"labelPadding":3,"title":"Time (Year)","titlePadding":0}},
"y":{"field":"v","type":"quantitative","scale":{"domain":[-65.3,78.7],"nice":false,"zero":false},"axis":{"values":[-60,-40,-20,0,20,40,60],"title":"Cumulative Returns (%)","titlePadding":2}},
"color":{"field":"s","type":"nominal","scale":{"domain":["KM_Mod","KM_Med","SP_Mod","SP_Med","CCF"],"range":["#636EFA","#EF553B","#00CC96","#AB63FA","#FFA15A"]},
"legend":{"title":null,"orient":"bottom-right","offset":0,"labelExpr":"datum.label == 'KM_Mod' ? 'KM_Mod (SR = 0.13)' : datum.label == 'KM_Med' ? 'KM_Med (SR = 0.15)' : datum.label == 'SP_Mod' ? 'SP_Mod (SR = -0.03)' : datum.label == 'SP_Med' ? 'SP_Med (SR = 0.09)' : 'CCF (SR = -0.13)'"}}
}
},
{
"width":454,"height":292,
"title":{"text":"Dα strategy","dx":-49,"offset":7},
"data":{"name":"D"},
"mark":{"type":"line","strokeWidth":1.7,"clip":true},
"encoding":{
"x":{"field":"t","type":"quantitative","scale":{"domain":[2006,2019.08],"nice":false,"zero":false},"axis":{"values":[2006,2008,2010,2012,2014,2016,2018],"format":"d","labelAngle":-30,"labelPadding":3,"title":"Time (Year)","titlePadding":0}},
"y":{"field":"v","type":"quantitative","scale":{"domain":[-12,124.5],"nice":false,"zero":false},"axis":{"values":[0,20,40,60,80,100,120],"labelExpr":"datum.value == 120 ? '' : datum.label","title":"Cumulative Returns (%)","titlePadding":1}},
"color":{"field":"s","type":"nominal","scale":{"domain":["KM_Mod","KM_Med","SP_Mod","SP_Med","CCF"],"range":["#636EFA","#EF553B","#00CC96","#AB63FA","#FFA15A"]},
"legend":{"title":null,"orient":"bottom-right","offset":0,"labelExpr":"datum.label == 'KM_Mod' ? 'KM_Mod (SR = 0.44)' : datum.label == 'KM_Med' ? 'KM_Med (SR = 0.15)' : datum.label == 'SP_Mod' ? 'SP_Mod (SR = 0.49)' : datum.label == 'SP_Med' ? 'SP_Med (SR = 0.54)' : 'CCF (SR = 0.38)'"}}
}
}
],
"spacing":29,
"resolve":{"scale":{"color":"independent"},"legend":{"color":"independent"}},
"config":{
"font":"Open Sans",
"view":{"fill":"#E5ECF6","stroke":null},
"axis":{"grid":true,"gridColor":"white","gridWidth":1,"domain":false,"ticks":false,"labelFont":"Open Sans","labelFontSize":21,"labelColor":"#2a3f5f","labelPadding":6,"titleFont":"Open Sans","titleFontSize":26,"titleColor":"#2a3f5f","titleFontWeight":"normal"},
"legend":{"labelFont":"Open Sans","labelFontSize":20,"labelColor":"#2a3f5f","labelLimit":400,"fillColor":"rgba(255,255,255,0.8)","strokeColor":"#888888","strokeWidth":1,"padding":6.5,"rowPadding":3,"symbolSize":529,"symbolStrokeWidth":2,"labelOffset":4,"symbolType":"stroke"},
"title":{"font":"DejaVu Serif","fontSize":21,"fontWeight":"bold","color":"black","anchor":"middle"}
}
}
